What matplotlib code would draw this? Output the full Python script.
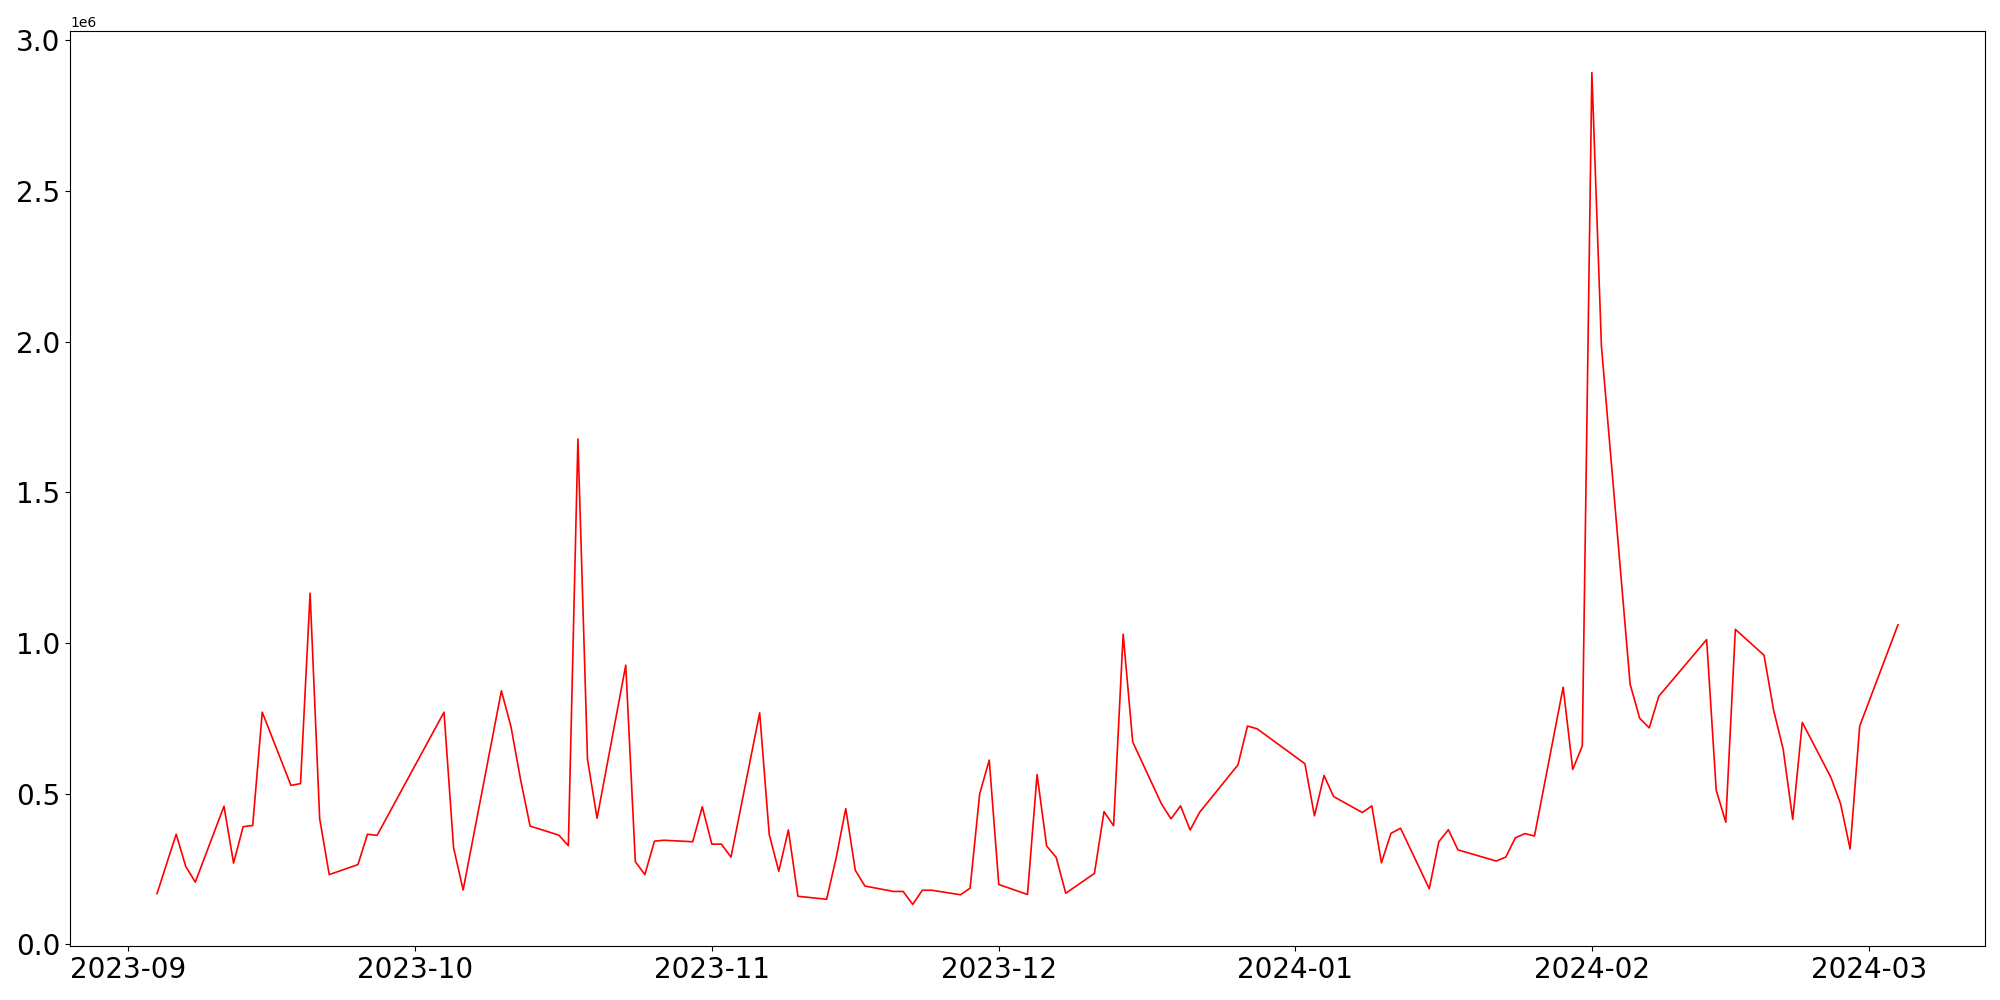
import pandas as pd
import matplotlib
matplotlib.use("Agg")
import matplotlib.pyplot as plt

# daily values (gaps = non-trading days)
dates = [
    "2023-09-04", "2023-09-06", "2023-09-07", "2023-09-08", "2023-09-11",
    "2023-09-12", "2023-09-13", "2023-09-14", "2023-09-15", "2023-09-18",
    "2023-09-19", "2023-09-20", "2023-09-21", "2023-09-22", "2023-09-25",
    "2023-09-26", "2023-09-27", "2023-10-04", "2023-10-05", "2023-10-06",
    "2023-10-10", "2023-10-11", "2023-10-12", "2023-10-13", "2023-10-16",
    "2023-10-17", "2023-10-18", "2023-10-19", "2023-10-20", "2023-10-23",
    "2023-10-24", "2023-10-25", "2023-10-26", "2023-10-27", "2023-10-30",
    "2023-10-31", "2023-11-01", "2023-11-02", "2023-11-03", "2023-11-06",
    "2023-11-07", "2023-11-08", "2023-11-09", "2023-11-10", "2023-11-13",
    "2023-11-14", "2023-11-15", "2023-11-16", "2023-11-17", "2023-11-20",
    "2023-11-21", "2023-11-22", "2023-11-23", "2023-11-24", "2023-11-27",
    "2023-11-28", "2023-11-29", "2023-11-30", "2023-12-01", "2023-12-04",
    "2023-12-05", "2023-12-06", "2023-12-07", "2023-12-08", "2023-12-11",
    "2023-12-12", "2023-12-13", "2023-12-14", "2023-12-15", "2023-12-18",
    "2023-12-19", "2023-12-20", "2023-12-21", "2023-12-22", "2023-12-26",
    "2023-12-27", "2023-12-28", "2024-01-02", "2024-01-03", "2024-01-04",
    "2024-01-05", "2024-01-08", "2024-01-09", "2024-01-10", "2024-01-11",
    "2024-01-12", "2024-01-15", "2024-01-16", "2024-01-17", "2024-01-18",
    "2024-01-22", "2024-01-23", "2024-01-24", "2024-01-25", "2024-01-26",
    "2024-01-29", "2024-01-30", "2024-01-31", "2024-02-01", "2024-02-02",
    "2024-02-05", "2024-02-06", "2024-02-07", "2024-02-08", "2024-02-13",
    "2024-02-14", "2024-02-15", "2024-02-16", "2024-02-19", "2024-02-20",
    "2024-02-21", "2024-02-22", "2024-02-23", "2024-02-26", "2024-02-27",
    "2024-02-28", "2024-02-29", "2024-03-04",
]

values = [
    168000, 365000, 258000, 206000, 458000,
    269000, 390000, 394000, 770000, 527000,
    533000, 1165000, 417000, 231000, 264000,
    365000, 361000, 770000, 320000, 180000,
    841000, 722000, 547000, 392000, 362000,
    327000, 1677000, 614000, 418000, 926000,
    274000, 231000, 342000, 345000, 340000,
    456000, 332000, 332000, 289000, 768000,
    364000, 242000, 379000, 159000, 149000,
    287000, 450000, 245000, 193000, 175000,
    175000, 132000, 179000, 179000, 164000,
    186000, 499000, 611000, 198000, 165000,
    563000, 326000, 288000, 169000, 235000,
    440000, 393000, 1029000, 671000, 466000,
    416000, 459000, 379000, 438000, 595000,
    724000, 715000, 599000, 426000, 560000,
    490000, 437000, 459000, 270000, 368000,
    385000, 184000, 340000, 380000, 313000,
    276000, 289000, 353000, 367000, 359000,
    853000, 580000, 658000, 2893000, 1985000,
    863000, 750000, 718000, 823000, 1011000,
    511000, 405000, 1045000, 959000, 777000,
    647000, 414000, 736000, 553000, 466000,
    316000, 724000, 1060000,
]

x = pd.to_datetime(dates)

fig = plt.figure(figsize=(20, 10), dpi=100)
ax = fig.add_axes([0.035, 0.054, 0.9575, 0.915])
ax.plot(x, values, color="red", linewidth=1.2)
ax.tick_params(labelsize=20)

fig.savefig("out.png")
